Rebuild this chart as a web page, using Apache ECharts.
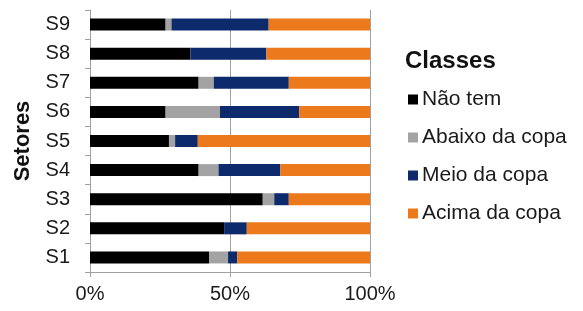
<!DOCTYPE html>
<html>
<head>
<meta charset="utf-8">
<script src="https://cdn.jsdelivr.net/npm/echarts@6/dist/echarts.min.js"></script>
<style>
    html, body { margin: 0; padding: 0; background: #fff; }
    #chart { width: 583px; height: 311px; }
</style>
</head>
<body>
<div id="chart"></div>
<script>
var setores = ['S1', 'S2', 'S3', 'S4', 'S5', 'S6', 'S7', 'S8', 'S9'];
var classes = ['Não tem', 'Abaixo da copa', 'Meio da copa', 'Acima da copa'];
// percentages per setor, S1 -> S9
var naoTem = [42.5, 47.9, 61.7, 38.8, 28.2, 27.0, 38.8, 35.9, 27.0];
var abaixo = [6.8, 0, 4.1, 7.1, 2.2, 19.4, 5.4, 0, 2.1];
var meio = [3.3, 8.1, 5.2, 22.1, 8.1, 28.3, 26.8, 27.1, 34.7];
var acima = [47.4, 44.0, 29.0, 32.0, 61.5, 25.3, 29.0, 37.0, 36.2];
var xTicks = [0, 50, 100];

var cores = ['#000000', '#a3a3a3', '#0c2a6c', '#ec7a1c'];
var fonte = "'Liberation Sans', Arial, sans-serif";

function serie(nome, dados, i) {
    return {
        name: nome,
        type: 'bar',
        stack: 'total',
        barWidth: 12,
        itemStyle: {color: cores[i]},
        data: dados
    };
}

var myChart = echarts.init(document.getElementById('chart'));
var option = {
    animation: false,
    textStyle: {fontFamily: fonte},
    title: {
        text: 'Classes',
        left: 400,
        top: 44,
        textStyle: {fontFamily: fonte, fontSize: 24, fontWeight: 'bold', color: '#111'}
    },
    legend: {
        data: classes,
        orient: 'vertical',
        left: 403,
        top: 84,
        itemWidth: 10,
        itemHeight: 10,
        itemGap: 17,
        icon: 'rect',
        textStyle: {fontFamily: fonte, fontSize: 21, color: '#1a1a1a', padding: [0, 0, 0, -1]}
    },
    grid: {left: 90, right: 213, top: 10, bottom: 39},
    xAxis: {
        type: 'value',
        min: xTicks[0],
        max: xTicks[xTicks.length - 1],
        interval: 50,
        axisLine: {show: true, lineStyle: {color: '#a0a0a0'}},
        axisTick: {show: true, length: 5, lineStyle: {color: '#a0a0a0'}},
        splitLine: {show: true, lineStyle: {color: '#a0a0a0'}},
        axisLabel: {formatter: '{value}%', fontSize: 20, color: '#1a1a1a', margin: 12}
    },
    yAxis: {
        type: 'category',
        data: setores,
        name: 'Setores',
        nameLocation: 'middle',
        nameGap: 56,
        nameTextStyle: {fontFamily: fonte, fontSize: 22, fontWeight: 'bold', color: '#111'},
        axisLine: {show: true, lineStyle: {color: '#a0a0a0'}},
        axisTick: {show: true, length: 5, lineStyle: {color: '#a0a0a0'}},
        axisLabel: {fontSize: 20, color: '#1a1a1a', margin: 20}
    },
    series: [
        serie(classes[0], naoTem, 0),
        serie(classes[1], abaixo, 1),
        serie(classes[2], meio, 2),
        serie(classes[3], acima, 3)
    ]
};
myChart.setOption(option, true);
</script>
</body>
</html>
